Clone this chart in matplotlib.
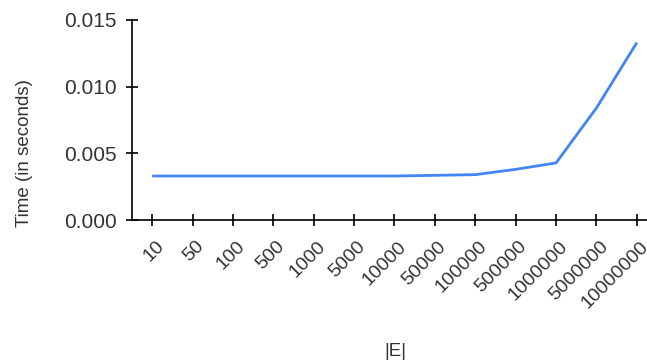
import matplotlib
matplotlib.use("Agg")
import matplotlib.pyplot as plt
import matplotlib.transforms as mtransforms

edges = ["10", "50", "100", "500", "1000", "5000", "10000", "50000",
         "100000", "500000", "1000000", "5000000", "10000000"]
times = [0.0033, 0.0033, 0.0033, 0.0033, 0.0033, 0.0033, 0.0033, 0.00335,
         0.0034, 0.0038, 0.00428, 0.0084, 0.0133]
y_ticks = [0.000, 0.005, 0.010, 0.015]

plt.rcParams['font.family'] = ['Liberation Sans', 'DejaVu Sans']
txt = "#333333"

fig = plt.figure(figsize=(6.47, 3.64), dpi=100)
ax = fig.add_axes([132 / 647, 1 - 220 / 364, 525 / 647, 200 / 364])

x = list(range(len(edges)))
ax.plot(x, times, color="#4285f4", linewidth=2.0, solid_capstyle="butt")

ax.set_xlim(-0.5, len(edges) - 0.5)
ax.set_ylim(0, 0.015)
ax.set_xticks(x)
ax.set_xticklabels(edges, rotation=45, ha="right", rotation_mode="anchor",
                   fontsize=14, color=txt)
ax.set_yticks(y_ticks)
ax.set_yticklabels([f"{v:.3f}" for v in y_ticks], fontsize=15, color=txt)
ax.tick_params(direction="inout", length=8, width=1.2)
ax.tick_params(axis="y", pad=7)
ax.tick_params(axis="x", pad=6)

# nudge rotated labels like the reference
shift = mtransforms.ScaledTranslation(0.03, -0.04, fig.dpi_scale_trans)
for lab in ax.get_xticklabels():
    lab.set_transform(lab.get_transform() + shift)

for s in ["top", "right"]:
    ax.spines[s].set_visible(False)
for s in ["left", "bottom"]:
    ax.spines[s].set_linewidth(1.2)

fig.text(25 / 647, 1 - 153 / 364, "Time (in seconds)", fontsize=13.5, color=txt,
         rotation=90, ha="center", va="center")
fig.text(395 / 647, 1 - 352 / 364, "|E|", fontsize=13.5, color=txt,
         ha="center", va="center")

fig.savefig("out.png", dpi=100)
